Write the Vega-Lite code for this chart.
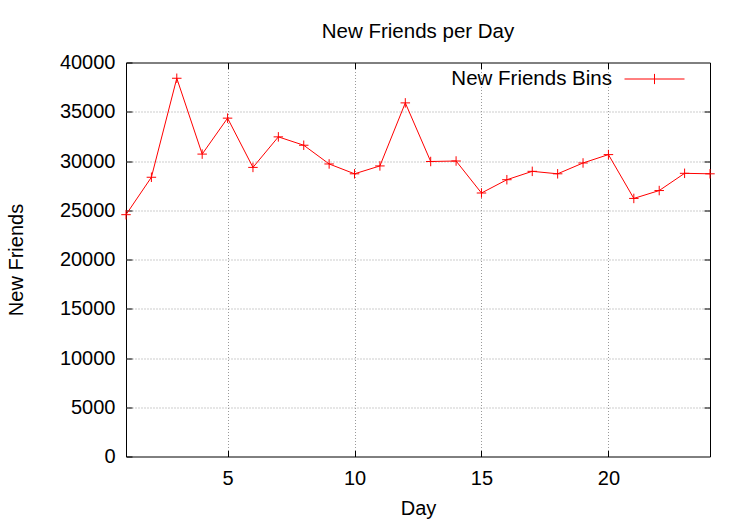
{
  "$schema": "https://vega.github.io/schema/vega-lite/v6.json",
  "width": 584,
  "height": 394,
  "autosize": {"type": "none"},
  "padding": {"left": 126, "top": 62.5, "right": 37, "bottom": 66.5},
  "background": "white",
  "title": {
    "text": "New Friends per Day",
    "font": "Liberation Sans",
    "fontSize": 20.5,
    "fontWeight": "normal",
    "color": "black",
    "baseline": "alphabetic",
    "offset": -10,
    "anchor": "middle"
  },
  "config": {
    "view": {"stroke": "black", "strokeWidth": 1},
    "font": "Liberation Sans",
    "axis": {
      "labelFont": "Liberation Sans",
      "labelFontSize": 20,
      "labelColor": "black",
      "titleFont": "Liberation Sans",
      "titleFontSize": 20,
      "titleFontWeight": "normal",
      "titleColor": "black",
      "domain": false,
      "tickColor": "black",
      "tickWidth": 1,
      "gridColor": "#9a9a9a",
      "gridDash": [1, 2],
      "gridWidth": 1
    }
  },
  "data": {
    "values": [
      {"day": 1, "friends": 24550, "series": "New Friends Bins"},
      {"day": 2, "friends": 28350, "series": "New Friends Bins"},
      {"day": 3, "friends": 38400, "series": "New Friends Bins"},
      {"day": 4, "friends": 30700, "series": "New Friends Bins"},
      {"day": 5, "friends": 34350, "series": "New Friends Bins"},
      {"day": 6, "friends": 29350, "series": "New Friends Bins"},
      {"day": 7, "friends": 32450, "series": "New Friends Bins"},
      {"day": 8, "friends": 31600, "series": "New Friends Bins"},
      {"day": 9, "friends": 29700, "series": "New Friends Bins"},
      {"day": 10, "friends": 28700, "series": "New Friends Bins"},
      {"day": 11, "friends": 29500, "series": "New Friends Bins"},
      {"day": 12, "friends": 35900, "series": "New Friends Bins"},
      {"day": 13, "friends": 29950, "series": "New Friends Bins"},
      {"day": 14, "friends": 30000, "series": "New Friends Bins"},
      {"day": 15, "friends": 26750, "series": "New Friends Bins"},
      {"day": 16, "friends": 28100, "series": "New Friends Bins"},
      {"day": 17, "friends": 28950, "series": "New Friends Bins"},
      {"day": 18, "friends": 28700, "series": "New Friends Bins"},
      {"day": 19, "friends": 29800, "series": "New Friends Bins"},
      {"day": 20, "friends": 30650, "series": "New Friends Bins"},
      {"day": 21, "friends": 26200, "series": "New Friends Bins"},
      {"day": 22, "friends": 27000, "series": "New Friends Bins"},
      {"day": 23, "friends": 28750, "series": "New Friends Bins"},
      {"day": 24, "friends": 28700, "series": "New Friends Bins"}
    ]
  },
  "resolve": {"axis": {"x": "independent", "y": "independent"}},
  "layer": [
    {
      "mark": {"type": "line", "strokeWidth": 1},
      "encoding": {
        "x": {
          "field": "day", "type": "quantitative",
          "scale": {"domain": [1, 24], "nice": false, "zero": false},
          "axis": {
            "title": "Day",
            "values": [5, 10, 15, 20],
            "grid": true,
            "tickSize": -6,
            "labelPadding": 18,
            "titlePadding": 10
          }
        },
        "y": {
          "field": "friends", "type": "quantitative",
          "scale": {"domain": [0, 40000], "nice": false, "zero": true},
          "axis": {
            "title": "New Friends",
            "values": [0, 5000, 10000, 15000, 20000, 25000, 30000, 35000, 40000],
            "grid": true,
            "gridOpacity": {"condition": {"test": "datum.value == 0 || datum.value == 40000", "value": 0}, "value": 1},
            "tickSize": -6,
            "labelPadding": 17,
            "titlePadding": 33,
            "format": "d"
          }
        },
        "color": {
          "field": "series", "type": "nominal",
          "scale": {"range": ["#ff0000"]},
          "legend": {
            "title": null,
            "orient": "none",
            "legendX": 498,
            "legendY": -14,
            "padding": 0,
            "symbolType": "M-1,0H1M0,-0.17V0.17",
            "symbolSize": 3600,
            "symbolStrokeColor": "#ff0000",
            "symbolStrokeWidth": 1,
            "symbolFillColor": "transparent",
            "labelAlign": "right",
            "labelOffset": -73,
            "labelFont": "Liberation Sans",
            "labelFontSize": 20.5,
            "labelColor": "black",
            "labelLimit": 400
          }
        }
      }
    },
    {
      "mark": {"type": "point", "shape": "M-1,0H1M0,-1V1", "filled": false, "size": 90, "strokeWidth": 1, "color": "#ff0000", "opacity": 1},
      "encoding": {
        "x": {"field": "day", "type": "quantitative", "axis": null},
        "y": {"field": "friends", "type": "quantitative", "axis": null}
      }
    },
    {
      "mark": {"type": "line", "strokeOpacity": 0},
      "encoding": {
        "x": {
          "field": "day", "type": "quantitative",
          "axis": {"orient": "top", "title": null, "labels": false, "grid": false, "values": [5, 10, 15, 20], "tickSize": -6}
        },
        "y": {
          "field": "friends", "type": "quantitative",
          "axis": {"orient": "right", "title": null, "labels": false, "grid": false, "values": [5000, 10000, 15000, 20000, 25000, 30000, 35000], "tickSize": -6}
        }
      }
    }
  ]
}
